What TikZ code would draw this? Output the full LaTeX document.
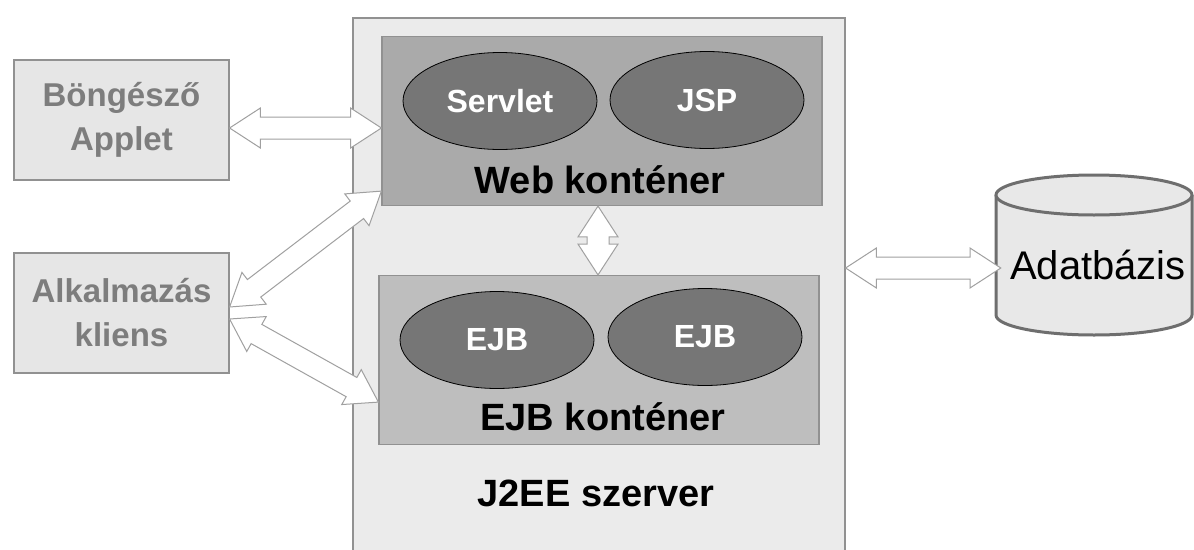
\documentclass[tikz,border=0pt]{standalone}
\usepackage{fontspec}
\setmainfont{Liberation Sans}
\usepackage{color}
\usepackage{tikz}
\usetikzlibrary{calc}
\usetikzlibrary{shapes.geometric}
\usetikzlibrary{shapes.arrows}

\definecolor{srvfill}{RGB}{235,235,235}
\definecolor{boxline}{RGB}{145,145,145}
\definecolor{webfill}{RGB}{170,170,170}
\definecolor{ejbfill}{RGB}{190,190,190}
\definecolor{compfill}{RGB}{118,118,118}
\definecolor{clifill}{RGB}{230,230,230}
\definecolor{clitext}{RGB}{125,125,125}
\definecolor{dbfill}{RGB}{232,232,232}
\definecolor{dbline}{RGB}{110,110,110}
\definecolor{arrline}{RGB}{160,160,160}

% two-headed hollow arrow between two named points
\newcommand{\twoway}[2]{%
  \path let \p1=($(#2)-(#1)$), \n1={veclen(\x1,\y1)}, \n2={atan2(\y1,\x1)} in
    node[dblarrow, minimum height=\n1, rotate=\n2] at ($(#1)!0.5!(#2)$) {};}

\begin{document}
\begin{tikzpicture}[x=1pt,y=-1pt]
    \tikzstyle{client}=[rectangle,draw=boxline,line width=1.2pt,fill=clifill,text=clitext,minimum width=215pt,minimum height=120pt,align=center,font=\fontsize{33}{44}\selectfont\bfseries]
    \tikzstyle{server}=[rectangle,draw=boxline,line width=1.2pt,fill=srvfill,minimum width=492pt,minimum height=542pt]
    \tikzstyle{cont}=[rectangle,draw=boxline,line width=1.2pt,minimum width=440pt,minimum height=169pt]
    \tikzstyle{comp}=[ellipse,draw=black,line width=0.8pt,fill=compfill,text=white,minimum width=194pt,minimum height=97pt,inner sep=0pt,font=\fontsize{32}{38}\selectfont\bfseries]
    \tikzstyle{big}=[inner sep=0pt,font=\fontsize{38}{44}\selectfont\bfseries]
    \tikzstyle{dblarrow}=[double arrow,draw=arrline,fill=white,line width=1pt,inner xsep=0pt,inner ysep=10.5pt,double arrow head extend=9pt,double arrow tip angle=66]

    \useasboundingbox[fill=white] (0,0) rectangle (1194,549);

    \def\cx{121.5}

    % clients
    \node[client] (bro) at (\cx,120) {Böngésző\\Applet};
    \node[client] (app) at (\cx,313) {Alkalmazás\\kliens};

    % server and containers
    \node[server] (srv) at (599,289) {};
    \node[cont,fill=webfill] (web) at (602,121) {};
    \node[cont,fill=ejbfill] (ejb) at (599,360) {};

    \node[comp] (servlet) at (500,101) {\raisebox{-4pt}{Servlet}};
    \node[comp] (jsp)     at (707,100) {JSP};
    \node[comp] (ejb1)    at (497,340) {EJB};
    \node[comp] (ejb2)    at (705,337) {EJB};

    \node[big] (webl) at (600,180) {Web konténer};
    \node[big] (ejbl) at (603,417) {EJB konténer};
    \node[big] (srvl) at (596,493) {J2EE szerver};

    % database
    \draw[dbline,fill=dbfill,line width=3pt] (996,195) -- (996,315)
        arc[start angle=180,end angle=0,x radius=98,y radius=20] -- (1192,195);
    \draw[dbline,fill=dbfill,line width=3pt] (1094,195) ellipse[x radius=98,y radius=20];
    \node[inner sep=0pt,minimum width=194pt,font=\fontsize{40}{46}\selectfont] (db) at (1098,265) {Adatbázis};

    % arrows
    \coordinate (b1) at ([yshift=-8pt]bro.east);
    \coordinate (b2) at (web.west |- b1);
    \coordinate (a1) at ([yshift=6pt]app.east);
    \coordinate (a2) at ([yshift=15pt]web.south west);
    \coordinate (a3) at ([yshift=-6pt]app.east);
    \coordinate (a4) at ([yshift=43pt]ejb.south west);
    \coordinate (w1) at ([xshift=-4pt]web.south);
    \coordinate (w2) at (w1 |- ejb.north);
    \coordinate (d1) at ([yshift=-3pt]db.west);
    \coordinate (d2) at (srv.east |- d1);

    \twoway{b1}{b2}
    \twoway{a1}{a2}
    \twoway{a3}{a4}
    \twoway{w1}{w2}
    \twoway{d2}{d1}
\end{tikzpicture}
\end{document}
